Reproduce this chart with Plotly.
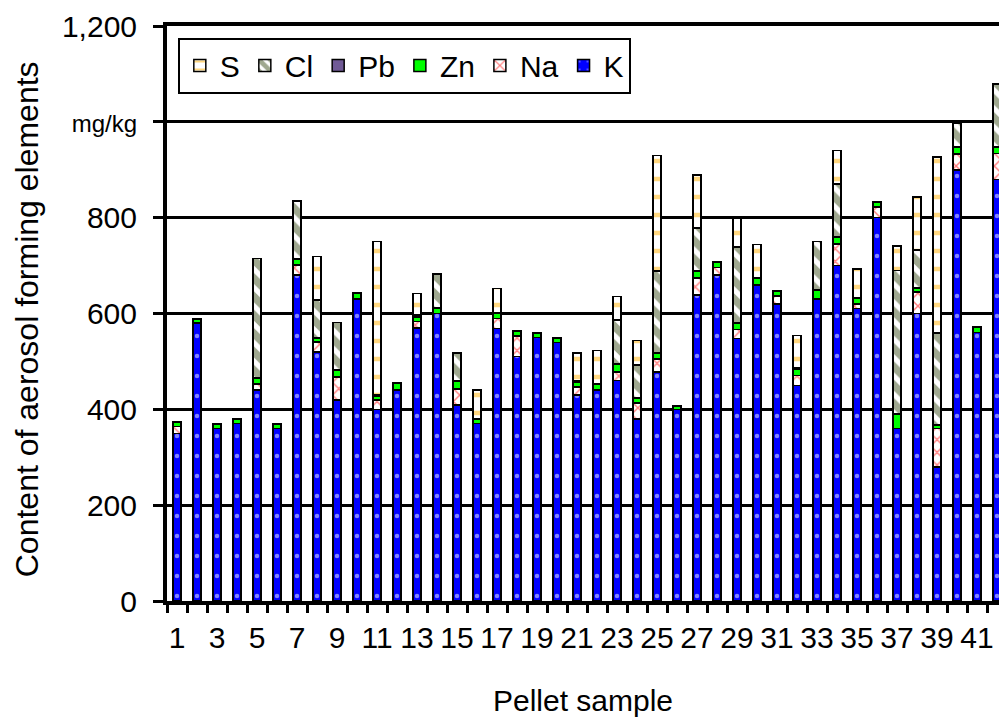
import plotly.graph_objects as go

samples = list(range(1, 43))
K  = [350, 580, 360, 370, 440, 360, 680, 520, 420, 630, 400, 440, 570, 600, 409, 370, 569, 510, 550, 540, 430,
      440, 460, 380, 478, 400, 639, 680, 548, 660, 620, 450, 630, 700, 610, 800, 360, 600, 280, 900, 560, 880]
Na = [14, 0, 0, 0, 13, 0, 21, 21, 48, 0, 19, 0, 13, 0, 33, 0, 21, 43, 0, 0, 17,
      0, 18, 33, 27, 0, 35, 16, 19, 0, 17, 21, 0, 45, 10, 22, 0, 45, 80, 33, 0, 54]
Zn = [9, 8, 9, 9, 12, 9, 12, 7, 13, 13, 9, 15, 10, 10, 16, 9, 10, 10, 8, 8, 10,
      12, 16, 10, 13, 7, 14, 10, 12, 14, 10, 12, 19, 14, 12, 10, 29, 7, 7, 15, 11, 14]
Pb = [1] * 42
Cl = [0, 0, 0, 0, 249, 0, 121, 79, 99, 0, 2, 0, 3, 71, 59, 0, 0, 0, 0, 0, 2,
      0, 91, 69, 170, 0, 89, 0, 159, 0, 0, 2, 100, 110, 0, 0, 300, 80, 191, 49, 0, 130]
S  = [0, 0, 0, 0, 0, 0, 0, 91, 0, 0, 319, 0, 45, 0, 0, 60, 51, 0, 0, 0, 58,
      70, 50, 51, 241, 0, 111, 0, 59, 69, 0, 68, 0, 70, 60, 0, 51, 110, 368, 0, 0, 0]

x_tick_vals = list(range(1, 42, 2))
x_tick_text = [str(v) for v in x_tick_vals]
y_tick_vals = [0, 200, 400, 600, 800, 1000, 1200]
y_tick_text = ["0", "200", "400", "600", "800", '<span style="font-size:24px">mg/kg</span>', "1,200"]
y_title = "Content of aerosol forming elements"
x_title = "Pellet sample"

FONT = "Liberation Sans, Arial, sans-serif"
outline = dict(color="black", width=1.5)

series = [
    ("K", K, dict(color="#0000FF", line=outline,
                  pattern=dict(shape=".", fgcolor="white", bgcolor="#0000FF", size=20, solidity=0.04))),
    ("Na", Na, dict(color="white", line=outline,
                    pattern=dict(shape="x", fgcolor="#FF0000", bgcolor="white", size=9, solidity=0.3))),
    ("Zn", Zn, dict(color="#00FF00", line=outline)),
    ("Pb", Pb, dict(color="#705A96", line=outline)),
    ("Cl", Cl, dict(color="white", line=outline,
                    pattern=dict(shape="\\", fgcolor="#3F5220", bgcolor="white", size=13, solidity=0.6))),
    ("S", S, dict(color="white", line=outline,
                  pattern=dict(shape="-", fgcolor="#FFB000", bgcolor="white", size=18, solidity=0.25))),
]

fig = go.Figure()
for name, vals, marker in series:
    fig.add_trace(go.Bar(x=samples, y=vals, name=name, marker=marker, width=0.42))

L, R_EDGE = 167, 999
fig.update_layout(
    barmode="stack",
    width=999, height=717,
    margin=dict(l=L, r=0, t=26, b=116),
    paper_bgcolor="white", plot_bgcolor="white",
    font=dict(family=FONT, size=30, color="black"),
    legend=dict(orientation="h", traceorder="reversed", x=0.013, xanchor="left", y=0.98, yanchor="top",
                bgcolor="white", bordercolor="black", borderwidth=2, font=dict(size=30)),
    xaxis=dict(range=[0.5, 42.1], tickmode="array", tickvals=x_tick_vals, ticktext=x_tick_text,
               ticks="", ticklabelstandoff=7, showgrid=False, zeroline=False,
               showline=True, linecolor="black", linewidth=4, mirror=True,
               minor=dict(tickmode="linear", tick0=0.5, dtick=1, ticks="outside", ticklen=8,
                          tickwidth=3, tickcolor="black", showgrid=False),
               title=dict(text=x_title, font=dict(size=30), standoff=39)),
    yaxis=dict(range=[0, 1200], tickmode="array", tickvals=y_tick_vals, ticktext=y_tick_text,
               ticks="outside", ticklen=10, tickwidth=3, tickcolor="black", ticklabelstandoff=10,
               showgrid=True, gridcolor="black", gridwidth=2.5, zeroline=False,
               showline=True, linecolor="black", linewidth=4),
    annotations=[dict(text=y_title, textangle=-90, xref="paper", yref="paper",
                      x=(27 - L) / (R_EDGE - L), y=0.49, xanchor="center", yanchor="middle",
                      showarrow=False, font=dict(size=32))],
)

# remove the page's default body margin so the figure fills the 999x717 window exactly
fig.write_html("out.html", config={"displayModeBar": False},
               post_script="document.body.style.margin='0px';document.body.style.overflow='hidden';")
